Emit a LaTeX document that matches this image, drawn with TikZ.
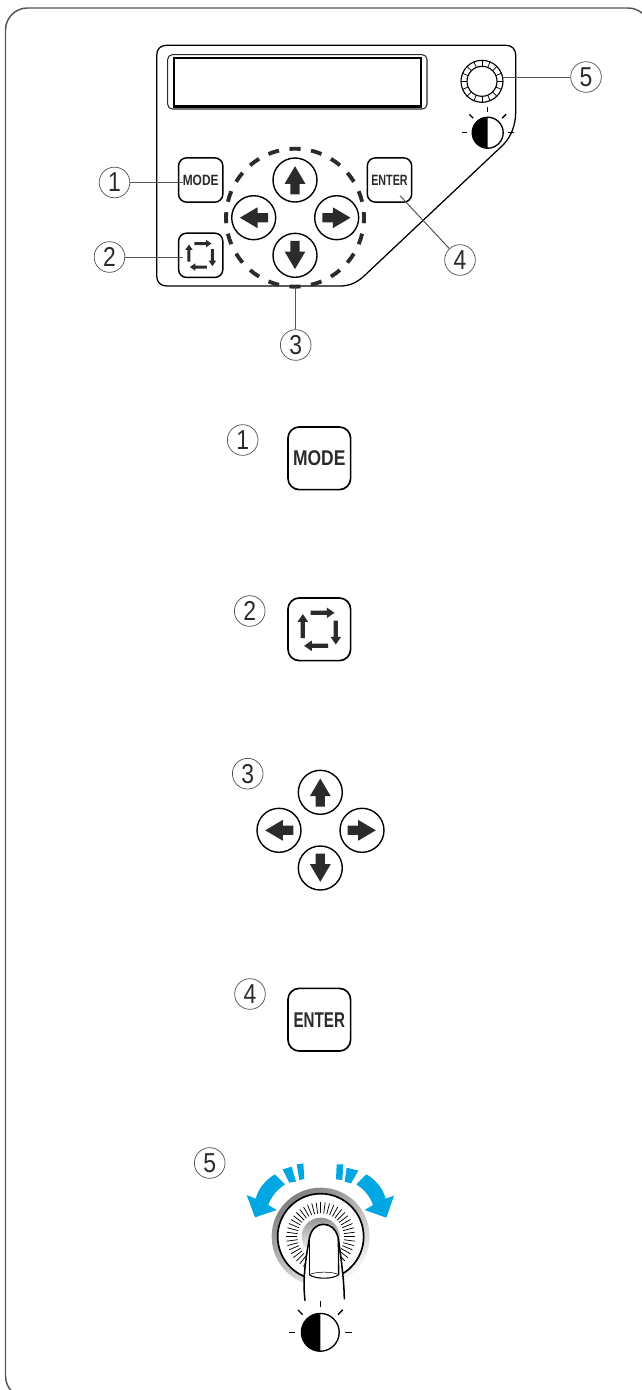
\documentclass[tikz,border=0pt]{standalone}
\usepackage{fontspec}
\usepackage{graphicx}
\setmainfont{Liberation Sans}
\usetikzlibrary{calc}
\definecolor{ink}{HTML}{2B2B2B}
\definecolor{leader}{HTML}{555555}
\definecolor{sweep}{HTML}{00A7E1}
\newcommand{\digitlabel}[1]{\scalebox{0.84}[1]{\fontsize{20.5}{20.5}\selectfont #1}}
\newcommand{\btnlabel}[3]{\scalebox{#2}[1]{\fontsize{#3}{#3}\selectfont\bfseries #1}}
\newcommand{\arrowglyph}[3]{\fill[ink,shift={(#1,#2)},rotate=#3] (0,-13.8) -- (10.4,3.8) -- (4.6,3.8) -- (4.6,14.4) -- (-4.6,14.4) -- (-4.6,3.8) -- (-10.4,3.8) -- cycle;}
\newcommand{\loopicon}[3]{\foreach \r in {0,-90,-180,-270}{\fill[ink,shift={(#1,#2)},rotate=\r,scale=#3] (-8.8,-18.6) -- (7.5,-18.6) -- (7.5,-21.8) -- (15.2,-16.5) -- (7.5,-11.2) -- (7.5,-14.4) -- (-8.8,-14.4) -- cycle;}}
\newcommand{\bulb}[3]{%
  \fill[black,shift={(#1,#2)},scale=#3] (0,-15.5) arc[start angle=-90,end angle=-270,radius=15.5] -- cycle;
  \draw[bulbline,shift={(#1,#2)},scale=#3] (0,0) circle[radius=15.5];
  \foreach \a in {0,-45,-90,-135,-180}{\draw[bulbline,shift={(#1,#2)},scale=#3] (\a:20.5) -- (\a:26);}
}
\begin{document}
\begin{tikzpicture}[x=.75pt,y=-.75pt,
  numcirc/.style={circle,draw=leader,line width=.55pt,inner sep=0pt,minimum size=23pt,text=ink},
  leaderline/.style={draw=leader,line width=.75pt},
  smallbtn/.style={rectangle,draw=black,line width=1.1pt,rounded corners=6pt,minimum size=33.2pt,inner sep=0pt,text=ink},
  bigbtn/.style={rectangle,draw=black,line width=1.25pt,rounded corners=8.5pt,minimum size=47pt,inner sep=0pt,text=ink},
  dirbtn/.style={circle,draw=black,line width=1.05pt,minimum size=33pt,inner sep=0pt},
  ringdash/.style={draw=ink,line width=2.9pt},
  bulbline/.style={draw=black,line width=1pt},
  panelline/.style={draw=black,line width=.95pt},
  tick/.style={draw=black,line width=.55pt}]
\useasboundingbox (0,0) rectangle (642,1390);
\clip (0,0) rectangle (642,1390);
% outer frame
\draw[draw=leader,line width=1.1pt,rounded corners=16.5pt] (5.5,8) rectangle (650,1398);
% panel
\draw[panelline] (166.7,45.3) -- (505.7,45.3) .. controls (512,45.3) and (515.7,49) .. (515.7,55.3) -- (515.7,112) .. controls (515.7,125) and (511,137) .. (503,145) -- (363,277) .. controls (356,283) and (349,286) .. (340,286) -- (166.7,286) .. controls (160.5,286) and (156.7,282) .. (156.7,276) -- (156.7,55.3) .. controls (156.7,49) and (160.5,45.3) .. (166.7,45.3) -- cycle;
% display
\draw[draw=ink,line width=.8pt,rounded corners=3.5pt] (167.7,54.7) rectangle (427,109);
\draw[draw=black,line width=1.8pt] (174,57.9) rectangle (421,106.6);
% dial
\coordinate (dial) at (482,81.3);
\draw[draw=black,line width=.85pt] (dial) circle[radius=21];
\draw[draw=black,line width=.85pt] (dial) circle[radius=15];
\foreach \a in {0,22.5,...,337.5}{\draw[draw=black,line width=.55pt] ($(dial)+(\a:15)$) -- ($(dial)+(\a:21)$);}
\bulb{487.7}{132.7}{1}
% buttons in panel
\node[smallbtn] (mode) at (200.7,180) {\btnlabel{MODE}{0.8}{11.2}};
\node[smallbtn] (loop) at (200.7,255.3) {};
\loopicon{200.7}{255.3}{.71}
\node[smallbtn] (enter) at (389.5,180) {\btnlabel{ENTER}{0.72}{11.2}};
\coordinate (ring) at (295,217.7);
\foreach \a in {0,18,...,342}{\draw[ringdash] ($(ring)+(\a-4.6:69)$) arc[start angle=\a-4.6,end angle=\a+4.6,radius=69];}
\node[dirbtn] (up) at (295,180) {};
\node[dirbtn] (left) at (253.7,217.7) {};
\node[dirbtn] (right) at (336.7,217.7) {};
\node[dirbtn] (down) at (295,255.3) {};
\arrowglyph{295}{180}{0}
\arrowglyph{253.7}{217.7}{90}
\arrowglyph{336.7}{217.7}{-90}
\arrowglyph{295}{255.3}{180}
% callouts
\node[numcirc] (n1) at (114.5,182.5) {\digitlabel{1}};
\node[numcirc] (n2) at (109.5,257) {\digitlabel{2}};
\node[numcirc] (n3) at (295.7,345) {\digitlabel{3}};
\node[numcirc] (n4) at (460,260) {\digitlabel{4}};
\node[numcirc] (n5) at (586,77) {\digitlabel{5}};
\coordinate (e1) at (182.7,182.5);
\coordinate (e2) at (183,257);
\coordinate (e3) at (295.7,286.7);
\coordinate (e4) at (400,195.7);
\coordinate (e5) at (503.3,77);
\draw[leaderline] (n1) -- (e1);
\draw[leaderline] (n2) -- (e2);
\draw[leaderline] (n3) -- (e3);
\draw[leaderline] (n4) -- (e4);
\draw[leaderline] (n5) -- (e5);
% section 1
\node[numcirc] (s1) at (242.7,440) {\digitlabel{1}};
\node[bigbtn] (mode2) at (319.3,458.3) {\btnlabel{MODE}{0.82}{16}};
% section 2
\node[numcirc] (s2) at (249.7,611) {\digitlabel{2}};
\node[bigbtn] (loop2) at (319.3,629.3) {};
\loopicon{319.3}{629.3}{1}
% section 3
\node[numcirc] (s3) at (247.7,773.7) {\digitlabel{3}};
\node[dirbtn] (up2) at (320.3,792.3) {};
\node[dirbtn] (left2) at (279,830.3) {};
\node[dirbtn] (right2) at (362,830.3) {};
\node[dirbtn] (down2) at (320.3,868) {};
\arrowglyph{320.3}{792.3}{0}
\arrowglyph{279}{830.3}{90}
\arrowglyph{362}{830.3}{-90}
\arrowglyph{320.3}{868}{180}
% section 4
\node[numcirc] (s4) at (250,994) {\digitlabel{4}};
\node[bigbtn] (enter2) at (319.3,1019.7) {\btnlabel{ENTER}{0.71}{16}};
% section 5
\node[numcirc] (s5) at (209.7,1163) {\digitlabel{5}};
\begin{scope}[shift={(190,1130)},x=.25pt,y=-.25pt]
  % blue sweep arrows
  \fill[sweep] (255,133) .. controls (228,148) and (205,175) .. (197,206) -- (170,195) -- (195,262) -- (260,240) -- (235,225) .. controls (243,200) and (262,178) .. (285,163) -- cycle;
  \fill[sweep] (278,118) -- (305,110) -- (318,155) -- (298,158) -- cycle;
  \fill[sweep] (320,103) -- (340,100) -- (343,147) -- (328,150) -- cycle;
  \fill[sweep] (529,133) .. controls (556,148) and (579,175) .. (587,206) -- (612,197) -- (589,263) -- (524,240) -- (549,225) .. controls (541,200) and (522,178) .. (499,163) -- cycle;
  \fill[sweep] (470,113) -- (505,122) -- (483,160) -- (464,155) -- cycle;
  \fill[sweep] (440,103) -- (460,103) -- (457,150) -- (438,148) -- cycle;
  % knob
  \shade[top color=black!50,bottom color=black!3,shading angle=35] (392,320) circle[radius=147];
  \fill[white] (392,320) circle[radius=129];
  \draw[draw=black,line width=1.25pt] (392,320) circle[radius=129];
  \foreach \a in {0,7.5,...,352.5}{\draw[tick] ($(392,320)+(\a:70)$) -- ($(392,320)+(\a:103)$);}
  \fill[white] (392,320) circle[radius=62];
  \shade[top color=black!42,bottom color=white] (392,320) circle[radius=57];
  % finger
  \fill[white] (345,512) .. controls (338,450) and (345,400) .. (358,325) .. controls (364,295) and (382,283) .. (400,283) .. controls (420,283) and (438,295) .. (445,325) .. controls (455,400) and (462,450) .. (463,508) -- cycle;
  \draw[draw=black,line width=1.15pt] (345,512) .. controls (338,450) and (345,400) .. (358,325) .. controls (364,295) and (382,283) .. (400,283) .. controls (420,283) and (438,295) .. (445,325) .. controls (455,400) and (462,450) .. (463,508);
  \draw[draw=black,line width=1pt] (358,325) -- (358,434);
  \draw[draw=black,line width=1pt] (445,325) -- (446,434);
  \draw[draw=black,line width=.8pt] (358,434) .. controls (375,448) and (430,448) .. (446,434);
  \draw[draw=black,line width=.4pt] (358,434) .. controls (375,424) and (430,424) .. (446,434);
\end{scope}
\bulb{320.3}{1332.3}{1.22}
\end{tikzpicture}
\end{document}
